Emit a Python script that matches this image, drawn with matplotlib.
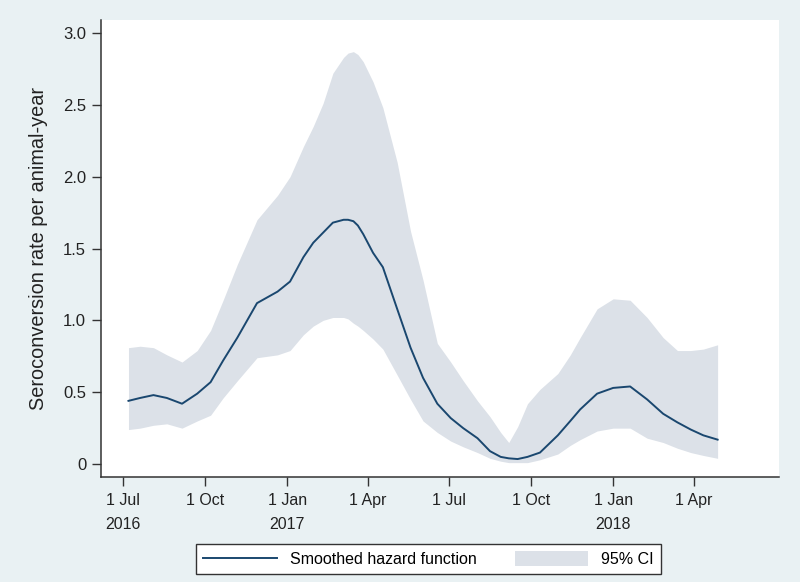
import pandas as pd
import matplotlib.pyplot as plt

# Smoothed hazard of seroconversion with 95% CI
dates = [
    '2016-07-07', '2016-07-20', '2016-08-04', '2016-08-19', '2016-09-05',
    '2016-09-22', '2016-10-07', '2016-10-21', '2016-11-06', '2016-11-28',
    '2016-12-21', '2017-01-04', '2017-01-19', '2017-01-30', '2017-02-10',
    '2017-02-21', '2017-03-05', '2017-03-10', '2017-03-16', '2017-03-21',
    '2017-03-27', '2017-04-07', '2017-04-18', '2017-05-04', '2017-05-19',
    '2017-06-02', '2017-06-18', '2017-07-03', '2017-07-17', '2017-08-02',
    '2017-08-16', '2017-08-28', '2017-09-06', '2017-09-16', '2017-09-27',
    '2017-10-11', '2017-10-31', '2017-11-14', '2017-11-25', '2017-12-14',
    '2018-01-01', '2018-01-20', '2018-02-08', '2018-02-26', '2018-03-14',
    '2018-03-29', '2018-04-12', '2018-04-28',
]
hazard = [
    0.44, 0.46, 0.48, 0.46, 0.42,
    0.49, 0.57, 0.72, 0.88, 1.12,
    1.20, 1.27, 1.44, 1.54, 1.61,
    1.68, 1.70, 1.70, 1.69, 1.66,
    1.60, 1.47, 1.37, 1.08, 0.81,
    0.60, 0.42, 0.32, 0.25, 0.18,
    0.09, 0.05, 0.04, 0.035, 0.05,
    0.08, 0.20, 0.30, 0.38, 0.49,
    0.53, 0.54, 0.45, 0.35, 0.29,
    0.24, 0.20, 0.17,
]
ci_low = [
    0.24, 0.25, 0.27, 0.28, 0.25,
    0.30, 0.34, 0.46, 0.58, 0.74,
    0.76, 0.79, 0.90, 0.96, 1.00,
    1.02, 1.02, 1.01, 0.98, 0.96,
    0.93, 0.87, 0.80, 0.62, 0.45,
    0.30, 0.22, 0.16, 0.12, 0.08,
    0.04, 0.02, 0.01, 0.01, 0.01,
    0.03, 0.07, 0.13, 0.17, 0.23,
    0.25, 0.25, 0.18, 0.15, 0.11,
    0.08, 0.06, 0.04,
]
ci_high = [
    0.81, 0.82, 0.81, 0.76, 0.71,
    0.79, 0.93, 1.14, 1.39, 1.70,
    1.87, 2.00, 2.21, 2.35, 2.51,
    2.72, 2.83, 2.86, 2.87, 2.85,
    2.80, 2.66, 2.48, 2.10, 1.62,
    1.28, 0.84, 0.71, 0.58, 0.44,
    0.33, 0.22, 0.15, 0.26, 0.42,
    0.52, 0.63, 0.76, 0.88, 1.08,
    1.15, 1.14, 1.02, 0.88, 0.79,
    0.79, 0.80, 0.83,
]

tick_dates = ['2016-07-01', '2016-10-01', '2017-01-01', '2017-04-01',
              '2017-07-01', '2017-10-01', '2018-01-01', '2018-04-01']
tick_labels = ['1 Jul\n2016', '1 Oct', '1 Jan\n2017', '1 Apr',
               '1 Jul', '1 Oct', '1 Jan\n2018', '1 Apr']
y_ticks = [0, 0.5, 1.0, 1.5, 2.0, 2.5, 3.0]
y_labels = ['0', '0.5', '1.0', '1.5', '2.0', '2.5', '3.0']

bg = '#e9f1f3'
navy = '#1a476f'
band = '#dce1e8'
axis_col = '#333333'

plt.rcParams['font.family'] = ['Liberation Sans', 'DejaVu Sans']

x = pd.to_datetime(dates)

fig = plt.figure(figsize=(8, 5.82), dpi=100, facecolor=bg)
ax = fig.add_axes([0.126, 0.1804, 0.848, 0.7852])
ax.set_facecolor('white')

ci = ax.fill_between(x, ci_low, ci_high, color=band, linewidth=0, label='95% CI')
line, = ax.plot(x, hazard, color=navy, linewidth=1.4, label='Smoothed hazard function')

ax.set_xlim(pd.Timestamp('2016-06-06'), pd.Timestamp('2018-07-06'))
ax.set_ylim(-0.09, 3.09)

ax.set_xticks(pd.to_datetime(tick_dates))
ax.set_xticklabels(tick_labels, linespacing=1.75)
ax.set_yticks(y_ticks)
ax.set_yticklabels(y_labels)

for side in ['top', 'right']:
    ax.spines[side].set_visible(False)
for side in ['left', 'bottom']:
    ax.spines[side].set_color(axis_col)
    ax.spines[side].set_linewidth(1.1)

ax.tick_params(axis='both', colors=axis_col, labelcolor='#222222',
               labelsize=11.5, length=6.5, width=1.0, direction='out')
ax.tick_params(axis='x', pad=5)
ax.tick_params(axis='y', labelsize=12, pad=4)

ax.set_ylabel('Seroconversion rate per animal-year', fontsize=14.3,
              color='#222222', labelpad=11)

leg = fig.legend([line, ci], ['Smoothed hazard function', '95% CI'],
                 loc='center', bbox_to_anchor=(0.5356, 0.0395), ncol=2,
                 fontsize=11.5, frameon=True, fancybox=False,
                 edgecolor=axis_col, framealpha=1, handlelength=4.6,
                 handleheight=1.1, handletextpad=0.8, columnspacing=2.4,
                 borderpad=0.45)
leg.get_frame().set_linewidth(1.0)

fig.savefig('out.png', dpi=100, facecolor=bg)
